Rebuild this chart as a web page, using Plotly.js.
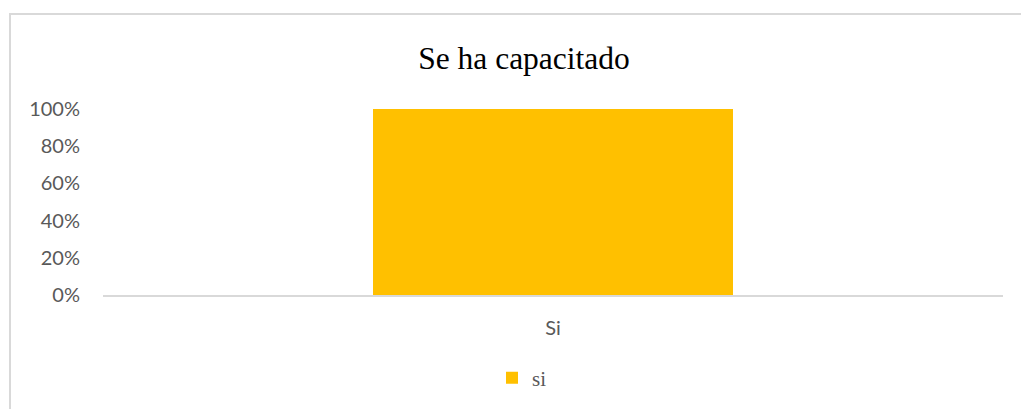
<!DOCTYPE html>
<html>
<head>
<meta charset="utf-8">
<script src="https://cdn.plot.ly/plotly-3.0.1.min.js"></script>
<style>
  html, body { margin: 0; padding: 0; background: #fff; }
  #wrap { position: relative; width: 1021px; height: 409px; overflow: hidden; }
  #frame { position: absolute; left: 9px; top: 13px; width: 1100px; height: 500px;
           border-left: 2px solid #d9d9d9; border-top: 2px solid #d9d9d9; box-sizing: border-box; }
  #chart { position: absolute; left: 0; top: 0; width: 1021px; height: 409px; }
</style>
</head>
<body>
<div id="wrap">
  <div id="frame"></div>
  <div id="chart"></div>
</div>
<script>
const chartTitle = "Se ha capacitado";
const categories = ["Si"];
const seriesName = "si";
const seriesValues = [1.0];
const yTickValues = [0, 0.2, 0.4, 0.6, 0.8, 1.0];
const yTickLabels = ["0%", "20%", "40%", "60%", "80%", "100%"];

const trace = {
  type: "bar",
  x: categories,
  y: seriesValues,
  name: seriesName,
  marker: { color: "#FFC000" },
  showlegend: true,
  hoverinfo: "none"
};

const layout = {
  width: 1021,
  height: 409,
  paper_bgcolor: "rgba(0,0,0,0)",
  plot_bgcolor: "rgba(0,0,0,0)",
  margin: { l: 103, r: 18, t: 109, b: 114 },
  bargap: 0.6,
  title: {
    text: chartTitle,
    font: { family: "Liberation Serif, Times New Roman, serif", size: 31.5, color: "#000000" },
    xref: "container", x: 524 / 1021, xanchor: "center",
    yref: "container", y: 1 - 58 / 409, yanchor: "middle"
  },
  xaxis: {
    showgrid: false,
    showline: true,
    linecolor: "#d9d9d9",
    linewidth: 2,
    ticks: "",
    ticklabelstandoff: 14,
    tickfont: { family: "Lato, Carlito, sans-serif", size: 20, color: "#595959" },
    zeroline: false
  },
  yaxis: {
    range: [0, 1],
    tickvals: yTickValues,
    ticktext: yTickLabels,
    showgrid: false,
    showline: false,
    zeroline: false,
    ticks: "",
    ticklabelstandoff: 22,
    tickfont: { family: "Lato, Carlito, sans-serif", size: 20, color: "#595959" }
  },
  legend: {
    orientation: "h",
    xref: "container", x: 522 / 1021, xanchor: "center",
    yref: "container", y: 1 - 378 / 409, yanchor: "middle",
    font: { family: "Liberation Serif, Times New Roman, serif", size: 21, color: "#595959" },
    itemwidth: 30
  }
};

Plotly.newPlot("chart", [trace], layout, { displayModeBar: false, staticPlot: true });
</script>
</body>
</html>
